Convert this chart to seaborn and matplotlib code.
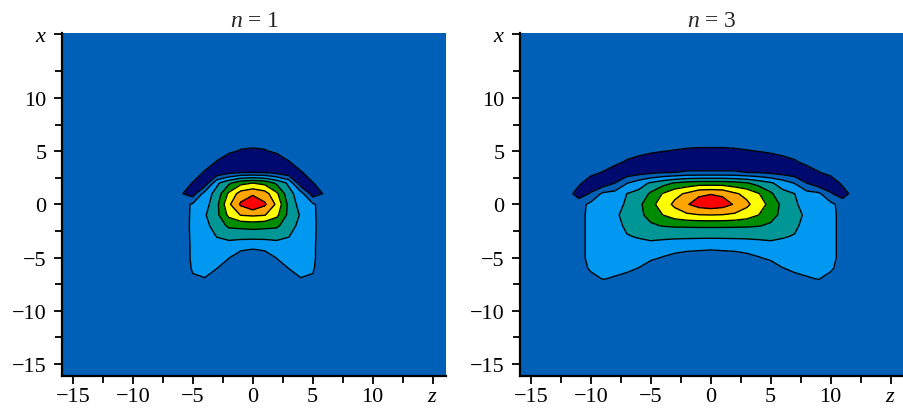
import matplotlib
matplotlib.use("Agg")
import matplotlib.pyplot as plt
import numpy as np
import seaborn as sns

# Grid nodes (z across, x from top row down)
z_n1 = [-7, -6, -5, -4, -3, -2, -1, 0, 1, 2, 3, 4, 5, 6, 7]
z_n3 = [-12, -11, -10, -9, -8, -7, -6, -5, -4, -3, -2, -1, 0,
        1, 2, 3, 4, 5, 6, 7, 8, 9, 10, 11, 12]
x_rows = [6, 5, 4, 3, 2, 1, 0, -1, -2, -3, -4, -5, -6, -7, -8]

field_n1 = [
    [0, 0, 0, 0, 0, 0, 0, 0, 0, 0, 0, 0, 0, 0, 0],
    [0, 0, 0, 0, 0, -0.3, -0.6, -0.72, -0.6, -0.3, 0, 0, 0, 0, 0],
    [0, 0, 0, 0, -0.55, -1.2, -1.5, -1.41, -1.5, -1.2, -0.55, 0, 0, 0, 0],
    [0, 0, 0, -0.6, -1.3, -0.8, -0.55, -0.5, -0.55, -0.8, -1.3, -0.6, 0, 0, 0],
    [0, 0, -0.55, -1.2, 1.3, 2.3, 3.21, 3.5, 3.21, 2.3, 1.3, -1.2, -0.55, 0, 0],
    [0, -0.4, -1.0, 0.95, 1.86, 3.68, 4.95, 5.33, 4.95, 3.68, 1.86, 0.95, -1.0, -0.4, 0],
    [0, 0, 0.65, 1.07, 2.22, 4.3, 5.65, 6.4, 5.65, 4.3, 2.22, 1.07, 0.65, 0, 0],
    [0, 0, 0.68, 1.4, 2.23, 3.73, 4.55, 4.67, 4.55, 3.73, 2.23, 1.4, 0.68, 0, 0],
    [0, 0, 0.7, 1.24, 1.88, 2.7, 2.79, 2.88, 2.79, 2.7, 1.88, 1.24, 0.7, 0, 0],
    [0, 0, 0.68, 1.08, 1.53, 1.76, 1.8, 1.82, 1.8, 1.76, 1.53, 1.08, 0.68, 0, 0],
    [0, 0, 0.65, 0.92, 1.18, 1.09, 0.8, 0.63, 0.8, 1.09, 1.18, 0.92, 0.65, 0, 0],
    [0, 0, 0.65, 0.76, 0.82, 0.55, 0, 0, 0, 0.55, 0.82, 0.76, 0.65, 0, 0],
    [0, 0, 0.58, 0.65, 0.52, 0, 0, 0, 0, 0, 0.52, 0.65, 0.58, 0, 0],
    [0, 0, 0.42, 0.48, 0, 0, 0, 0, 0, 0, 0, 0.48, 0.42, 0, 0],
    [0, 0, 0, 0, 0, 0, 0, 0, 0, 0, 0, 0, 0, 0, 0],
]

field_n3 = [
    [0, 0, 0, 0, 0, 0, 0, 0, 0, 0, 0, 0, 0, 0, 0, 0, 0, 0, 0, 0, 0, 0, 0, 0, 0],
    [0, 0, 0, 0, 0, 0, -0.14, -0.33, -0.47, -0.57, -0.68, -0.75, -0.75, -0.75, -0.68,
     -0.57, -0.47, -0.33, -0.14, 0, 0, 0, 0, 0, 0],
    [0, 0, 0, 0, -0.17, -0.63, -0.95, -1.2, -1.4, -1.5, -1.4, -1.32, -1.32, -1.32, -1.4,
     -1.5, -1.4, -1.2, -0.95, -0.63, -0.17, 0, 0, 0, 0],
    [0, 0, -0.2, -0.55, -1.12, -1.12, -0.93, -0.72, -0.55, -0.5, -0.35, -0.35, -0.35, -0.35,
     -0.35, -0.5, -0.55, -0.72, -0.93, -1.12, -1.12, -0.55, -0.2, 0, 0],
    [0, -0.3, -1.1, -1.2, -0.5, 0.45, 1.04, 1.63, 2.1, 2.59, 2.83, 3.0, 3.0, 3.0, 2.83,
     2.59, 2.1, 1.63, 1.04, 0.45, -0.5, -1.2, -1.1, -0.3, 0],
    [0, -1.0, -0.4, 0.7, 0.85, 1.5, 1.8, 2.66, 3.55, 4.21, 4.65, 5.3, 5.45, 5.3, 4.65,
     4.21, 3.55, 2.66, 1.8, 1.5, 0.85, 0.7, -0.4, -1.0, 0],
    [0, 0.1, 0.75, 0.85, 1.0, 1.68, 2.23, 3.2, 3.95, 4.72, 5.4, 5.95, 6.17, 5.95, 5.4,
     4.72, 3.95, 3.2, 2.23, 1.68, 1.0, 0.85, 0.75, 0.1, 0],
    [0, 0.25, 0.72, 0.9, 1.3, 1.85, 2.27, 2.81, 3.5, 4.0, 4.32, 4.46, 4.5, 4.46, 4.32,
     4.0, 3.5, 2.81, 2.27, 1.85, 1.3, 0.9, 0.72, 0.25, 0],
    [0, 0.25, 0.72, 0.9, 1.2, 1.66, 1.92, 2.37, 2.55, 2.63, 2.65, 2.67, 2.67, 2.67, 2.65,
     2.63, 2.55, 2.37, 1.92, 1.66, 1.2, 0.9, 0.72, 0.25, 0],
    [0, 0.25, 0.72, 0.9, 1.08, 1.45, 1.57, 1.73, 1.71, 1.68, 1.68, 1.68, 1.68, 1.68, 1.68,
     1.68, 1.71, 1.73, 1.57, 1.45, 1.08, 0.9, 0.72, 0.25, 0],
    [0, 0.25, 0.72, 0.9, 0.97, 1.18, 1.21, 1.18, 1.05, 0.95, 0.86, 0.77, 0.7, 0.77, 0.86,
     0.95, 1.05, 1.18, 1.21, 1.18, 0.97, 0.9, 0.72, 0.25, 0],
    [0, 0.25, 0.72, 0.9, 0.81, 0.9, 0.85, 0.7, 0.45, 0.2, 0, 0, 0, 0, 0,
     0.2, 0.45, 0.7, 0.85, 0.9, 0.81, 0.9, 0.72, 0.25, 0],
    [0, 0.2, 0.6, 0.75, 0.65, 0.64, 0.48, 0, 0, 0, 0, 0, 0, 0, 0,
     0, 0, 0, 0.48, 0.64, 0.65, 0.75, 0.6, 0.2, 0],
    [0, 0, 0.3, 0.52, 0.45, 0.3, 0, 0, 0, 0, 0, 0, 0, 0, 0,
     0, 0, 0, 0, 0.3, 0.45, 0.52, 0.3, 0, 0],
    [0, 0, 0, 0, 0, 0, 0, 0, 0, 0, 0, 0, 0, 0, 0, 0, 0, 0, 0, 0, 0, 0, 0, 0, 0],
]

levels = [-3, -0.5, 0.5, 1.5, 2.5, 3.5, 4.5, 5.5, 8]
band_colors = ["#000a6e", "#0060b8", "#0098f0", "#009696",
               "#008c00", "#ffff00", "#ffa500", "#ff0000"]

titles = ["$n$ = 1", "$n$ = 3"]
major_ticks = [-15, -10, -5, 0, 5, 10]
minor_ticks = [-12.5, -7.5, -2.5, 2.5, 7.5, 12.5]

sns.set_theme(style="ticks")
plt.rcParams["font.family"] = ["Liberation Serif", "DejaVu Serif"]
plt.rcParams["mathtext.fontset"] = "custom"
plt.rcParams["mathtext.it"] = "Liberation Serif:italic"
plt.rcParams["mathtext.rm"] = "Liberation Serif"
plt.rcParams["contour.negative_linestyle"] = "solid"


def tick_text(v):
    return str(v).replace("-", "\u2212")


def draw_panel(ax, z, field, title):
    zz = np.array(z, dtype=float)
    xx = np.array(x_rows, dtype=float)[::-1]
    ff = np.array(field, dtype=float)[::-1]
    ax.set_facecolor(band_colors[1])
    ax.contourf(zz, xx, ff, levels=levels, colors=sns.color_palette(band_colors))
    ax.contour(zz, xx, ff, levels=levels[1:-1], colors="black",
               linewidths=1.0, linestyles="solid")

    ax.set_xlim(-15.9, 16.15)
    ax.set_ylim(-16.1, 16.1)
    ax.set_xticks(major_ticks + [15])
    ax.set_xticklabels([tick_text(v) for v in major_ticks] + ["$z$"])
    ax.set_yticks(major_ticks + [16.05])
    ax.set_yticklabels([tick_text(v) for v in major_ticks] + ["$x$"])
    ax.set_xticks(minor_ticks, minor=True)
    ax.set_yticks(minor_ticks, minor=True)
    ax.tick_params(which="major", direction="out", length=6, width=1.3,
                   labelsize=16, color="black", labelcolor="black")
    ax.tick_params(which="minor", direction="out", length=5, width=1.3, color="black")
    ax.tick_params(axis="x", pad=2)
    ax.tick_params(axis="y", pad=5)
    sns.despine(ax=ax, top=True, right=True)
    for side in ["left", "bottom"]:
        ax.spines[side].set_linewidth(1.6)
        ax.spines[side].set_color("black")
    ax.set_title(title, fontsize=17, pad=5)


fig = plt.figure(figsize=(9.04, 4.10), dpi=100)
ax1 = fig.add_axes([0.0686, 0.0812, 0.4253, 0.8359])
ax2 = fig.add_axes([0.5752, 0.0812, 0.4253, 0.8359])

draw_panel(ax1, z_n1, field_n1, titles[0])
draw_panel(ax2, z_n3, field_n3, titles[1])

fig.savefig("out.png", dpi=100)
